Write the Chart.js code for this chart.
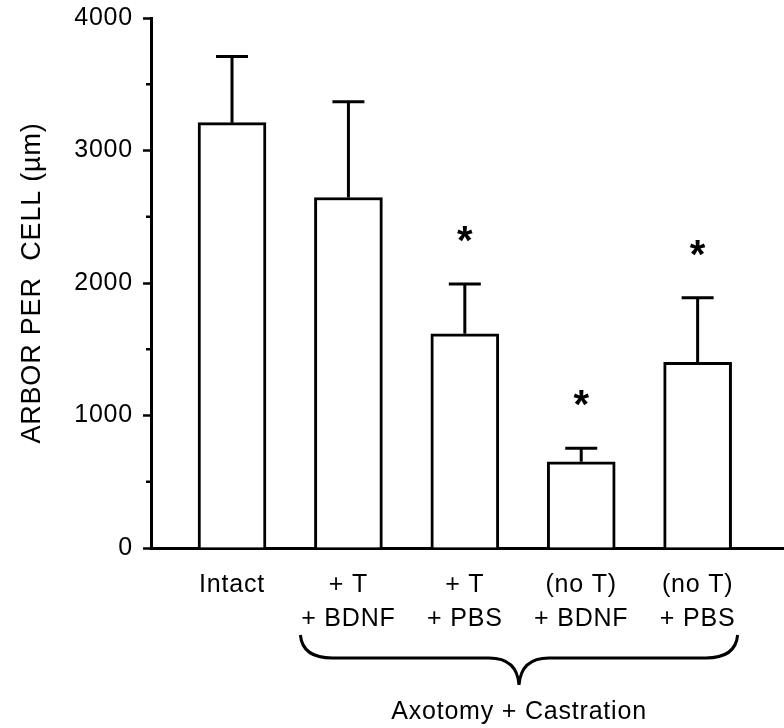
<!DOCTYPE html>
<html>
<head>
<meta charset="utf-8">
<script src="https://cdn.jsdelivr.net/npm/chart.js@4.4.1/dist/chart.umd.min.js"></script>
<style>
  html, body { margin: 0; padding: 0; background: #fff; }
</style>
</head>
<body>
<canvas id="arborChart" width="784" height="728"></canvas>
<script>
// groups on the x axis (two-line labels)
const groups = [["Intact"], ["+ T", "+ BDNF"], ["+ T", "+ PBS"], ["(no T)", "+ BDNF"], ["(no T)", "+ PBS"]];
// mean arbor per cell and top of the error bar (um)
const arborMeans = [3210, 2645, 1617, 651, 1401];
const arborErrTop = [3710, 3368, 1992, 752, 1889];
// which groups get a *
const significant = [false, false, true, true, true];
const yMajorTicks = [0, 1000, 2000, 3000, 4000];
const yMinorTicks = [500, 1500, 2500, 3500];
const yTitle = "ARBOR PER  CELL (µm)";
const bracketLabel = "Axotomy + Castration";
const bracketGroups = [1, 4]; // first and last group under the brace

const fontFamily = "'Liberation Sans', Arial, Helvetica, sans-serif";

//#region extra drawing: error bars, stars, minor ticks, brace
const extrasPlugin = {
  id: "extras",
  beforeDraw(chart) {
    // the figure's lettering is a little wider than Arial
    chart.ctx.letterSpacing = "0.8px";
  },
  afterDatasetsDraw(chart) {
    const ctx = chart.ctx;
    const xs = chart.scales.x;
    const ys = chart.scales.y;
    ctx.save();
    ctx.strokeStyle = "#000";
    ctx.lineWidth = 3;
    arborMeans.forEach((v, i) => {
      const x = xs.getPixelForValue(i);
      const yBar = ys.getPixelForValue(v);
      const yErr = ys.getPixelForValue(arborErrTop[i]);
      ctx.beginPath();
      ctx.moveTo(x, yBar);
      ctx.lineTo(x, yErr);
      ctx.moveTo(x - 16, yErr);
      ctx.lineTo(x + 16, yErr);
      ctx.stroke();

      if (significant[i]) {
        ctx.fillStyle = "#000";
        ctx.letterSpacing = "0px";
        ctx.font = "bold 40px " + fontFamily;
        ctx.textAlign = "center";
        ctx.textBaseline = "alphabetic";
        ctx.fillText("*", x, yErr - 30);
      }
    });
    ctx.restore();
  },
  afterDraw(chart) {
    const ctx = chart.ctx;
    const xs = chart.scales.x;
    const ys = chart.scales.y;
    const left = chart.chartArea.left;
    ctx.save();
    ctx.strokeStyle = "#000";

    // minor ticks on the y axis
    ctx.lineWidth = 2.5;
    yMinorTicks.forEach(v => {
      const y = ys.getPixelForValue(v);
      ctx.beginPath();
      ctx.moveTo(left - 5, y);
      ctx.lineTo(left, y);
      ctx.stroke();
    });

    // curly brace under the treated groups
    const l = xs.getPixelForValue(bracketGroups[0]) - 48;
    const r = xs.getPixelForValue(bracketGroups[1]) + 40;
    const m = (l + r) / 2;
    const yEnd = 635, yMid = 658, yTip = 685;
    ctx.lineWidth = 3;
    ctx.beginPath();
    ctx.moveTo(l, yEnd);
    ctx.quadraticCurveTo(l + 2, yMid, l + 32, yMid);
    ctx.lineTo(m - 30, yMid);
    ctx.quadraticCurveTo(m - 2, yMid, m, yTip);
    ctx.moveTo(r, yEnd);
    ctx.quadraticCurveTo(r - 2, yMid, r - 32, yMid);
    ctx.lineTo(m + 30, yMid);
    ctx.quadraticCurveTo(m + 2, yMid, m, yTip);
    ctx.stroke();

    ctx.fillStyle = "#000";
    ctx.letterSpacing = "0.8px";
    ctx.font = "25px " + fontFamily;
    ctx.textAlign = "center";
    ctx.textBaseline = "middle";
    ctx.fillText(bracketLabel, m, 712);
    ctx.restore();
  }
};
//#endregion

const ctx = document.getElementById("arborChart").getContext("2d");

const arborChart = new Chart(ctx, {
  type: "bar",
  data: {
    datasets: [{
      data: arborMeans.map((v, i) => ({ x: i, y: v })),
      backgroundColor: "#fff",
      borderColor: "#000",
      borderWidth: 3,
      borderSkipped: "bottom",
      barThickness: 68
    }]
  },
  options: {
    responsive: false,
    animation: false,
    events: [],
    layout: { padding: { top: 18, right: 0, left: 0, bottom: 0 } },
    plugins: {
      legend: { display: false },
      tooltip: { enabled: false }
    },
    scales: {
      x: {
        type: "linear",
        offset: false,
        min: -0.696,
        max: 4.742,
        afterBuildTicks: (scale) => { scale.ticks = groups.map((g, i) => ({ value: i })); },
        afterFit: (scale) => {
          scale.height = 180;
          scale.paddingLeft = 0;
          scale.paddingRight = 0;
        },
        ticks: {
          callback: (value) => groups[value],
          font: { family: fontFamily, size: 25, lineHeight: 1.35 },
          color: "#000",
          padding: 20,
          maxRotation: 0,
          autoSkip: false
        },
        grid: { drawOnChartArea: false, drawTicks: false },
        border: { color: "#000", width: 3 }
      },
      y: {
        min: 0,
        max: 4000,
        afterBuildTicks: (scale) => { scale.ticks = yMajorTicks.map(v => ({ value: v })); },
        afterFit: (scale) => {
          scale.width = 151;
          scale.paddingTop = 0;
          scale.paddingBottom = 0;
        },
        ticks: {
          callback: (value) => String(value),
          font: { family: fontFamily, size: 25 },
          color: "#000",
          padding: 10
        },
        grid: { drawOnChartArea: false, drawTicks: true, tickLength: 8, tickWidth: 2.5, tickColor: "#000" },
        border: { color: "#000", width: 3 },
        title: {
          display: true,
          text: yTitle,
          font: { family: fontFamily, size: 27 },
          color: "#000",
          padding: { top: 16, bottom: 0 }
        }
      }
    }
  },
  plugins: [extrasPlugin]
});
</script>
</body>
</html>
